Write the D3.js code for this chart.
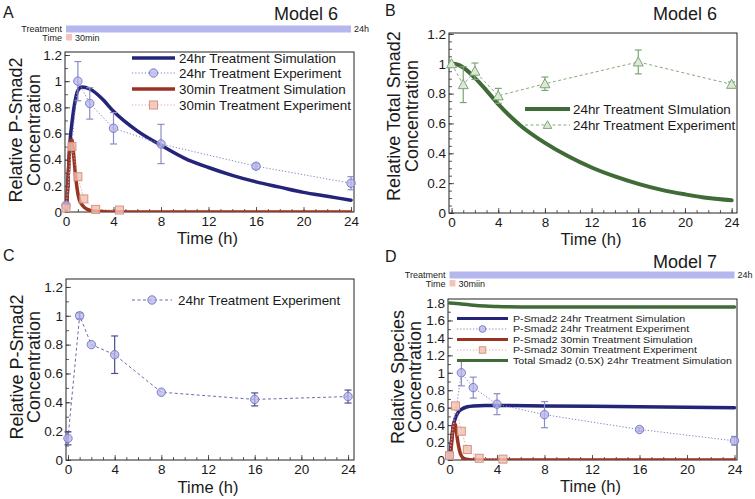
<!DOCTYPE html>
<html><head><meta charset="utf-8">
<script src="https://cdn.jsdelivr.net/npm/d3@7"></script>
<style>
body{margin:0;background:#fff}
svg{display:block}
text{font-family:"Liberation Sans",Arial,sans-serif;fill:#1a1a1a}
</style>
</head><body>
<svg id="chart" width="755" height="499"></svg>
<script>
// ---------------- DATA ----------------
const expTimes = [0, 1, 2, 4, 8, 16, 24];
const pSmad24Exp = [0.05, 1.0, 0.83, 0.64, 0.52, 0.35, 0.22];
const pSmad24Err = [0.02, 0.15, 0.12, 0.12, 0.15, 0.02, 0.05];

const shortTimes = [0, 0.5, 1, 1.5, 2.5, 4.5];
const pSmad30ExpA = [0.03, 0.5, 0.27, 0.10, 0.02, 0.015];
const pSmad30ExpD = [0.05, 0.62, 0.33, 0.12, 0.02, 0.01];

const simA24T = [0, 0.1, 0.2, 0.35, 0.5, 0.75, 1, 1.35, 2, 3, 4, 6, 8, 10, 12, 14, 16, 18, 20, 22, 24];
const simA24V = [0, 0.12, 0.3, 0.55, 0.68, 0.84, 0.93, 0.955, 0.94, 0.87, 0.77, 0.62, 0.51, 0.41, 0.34, 0.28, 0.23, 0.19, 0.15, 0.12, 0.09];
const simA30T = [0, 0.1, 0.2, 0.3, 0.4, 0.5, 0.6, 0.75, 0.9, 1.1, 1.4, 1.8, 2.5, 4, 8, 24];
const simA30V = [0, 0.12, 0.3, 0.47, 0.55, 0.55, 0.48, 0.33, 0.2, 0.1, 0.05, 0.02, 0.005, 0, 0, 0];

const totalExpB = [1.0, 0.86, 0.95, 0.785, 0.866, 1.012, 0.862];
const totalErrB = [0.01, 0.12, 0.055, 0.05, 0.045, 0.08, 0.016];
const simBT = [0, 0.5, 1, 2, 3, 4, 5, 6, 8, 10, 12, 14, 16, 18, 20, 22, 24];
const simBV = [1, 0.995, 0.975, 0.905, 0.82, 0.73, 0.65, 0.58, 0.47, 0.38, 0.305, 0.245, 0.195, 0.155, 0.125, 0.1, 0.085];

const pSmadExpC = [0.15, 1.0, 0.80, 0.73, 0.47, 0.42, 0.44];
const pSmadErrC = [0.045, 0.02, 0.01, 0.13, 0.01, 0.045, 0.045];

const simD24T = [0, 0.15, 0.3, 0.5, 0.75, 1, 1.5, 2, 3, 4, 8, 12, 16, 20, 24];
const simD24V = [0, 0.2, 0.38, 0.48, 0.55, 0.58, 0.61, 0.62, 0.625, 0.625, 0.62, 0.615, 0.61, 0.605, 0.60];
const simD30T = [0, 0.1, 0.2, 0.3, 0.4, 0.5, 0.6, 0.75, 0.9, 1.1, 1.4, 2, 24];
const simD30V = [0, 0.08, 0.22, 0.36, 0.42, 0.40, 0.3, 0.17, 0.08, 0.03, 0.01, 0, 0];
const simDTotT = [0, 1, 2, 3, 4, 6, 8, 12, 16, 20, 24];
const simDTotV = [1.8, 1.79, 1.775, 1.765, 1.76, 1.755, 1.755, 1.755, 1.755, 1.755, 1.755];

const xTickLabels = [0, 4, 8, 12, 16, 20, 24];
const yTicks12 = [0, 0.2, 0.4, 0.6, 0.8, 1, 1.2];
const yTicks18 = [0, 0.2, 0.4, 0.6, 0.8, 1, 1.2, 1.4, 1.6, 1.8];

// ---------------- STYLE ----------------
const C = {
  navy: "#24247a", brick: "#9a3322", green: "#3f6b36",
  circFill: "rgba(180,180,238,0.75)", circStroke: "#7f7fc2", circErr: "#8c8cc6",
  sqFill: "rgba(244,190,176,0.8)", sqStroke: "#d39585", sqLine: "#dba696",
  triFill: "#dde9d7", triStroke: "#7ea476", triLine: "#86a87c",
  cLine: "#6c6cb0", cErr: "#4b4b92",
  purpleBar: "#b7b7f0", pinkBar: "#f3c2b8"
};

const svg = d3.select("#chart");
const zip = (t, v, e) => t.map((d, i) => ({t: d, v: v[i], e: e ? e[i] : 0}));

function makePanel(cfg) {
  const g = svg.append("g");
  const x = d3.scaleLinear().domain(cfg.xd).range([cfg.l, cfg.r]);
  const y = d3.scaleLinear().domain(cfg.yd).range([cfg.b, cfg.t]);
  const id = "clip" + cfg.name;
  svg.append("clipPath").attr("id", id).append("rect")
    .attr("x", cfg.l).attr("y", cfg.t).attr("width", cfg.r - cfg.l).attr("height", cfg.b - cfg.t);

  const xm = g.append("g").attr("transform", `translate(0,${cfg.b})`)
    .call(d3.axisBottom(x).tickValues(d3.range(0, 25, 1)).tickSize(-3).tickFormat(""));
  const ym = g.append("g").attr("transform", `translate(${cfg.l},0)`)
    .call(d3.axisLeft(y).tickValues(d3.range(0, cfg.yTicks[cfg.yTicks.length-1] + 1e-9, cfg.yMinor)).tickSize(-3).tickFormat(""));
  const xa = g.append("g").attr("transform", `translate(0,${cfg.b})`)
    .call(d3.axisBottom(x).tickValues(xTickLabels).tickSize(-5).tickPadding(4).tickFormat(d => String(d)));
  const ya = g.append("g").attr("transform", `translate(${cfg.l},0)`)
    .call(d3.axisLeft(y).tickValues(cfg.yTicks).tickSize(-5).tickPadding(3).tickFormat(d => String(d)));
  [xm, ym, xa, ya].forEach(a => {
    a.select(".domain").remove();
    a.selectAll("line").attr("stroke", "#333").attr("stroke-width", 0.8);
    a.selectAll("text").attr("font-size", "13.5px").attr("fill", "#1a1a1a")
      .style("font-family", '"Liberation Sans",Arial,sans-serif');
  });
  g.append("rect").attr("x", cfg.l).attr("y", cfg.t).attr("width", cfg.r - cfg.l)
    .attr("height", cfg.b - cfg.t).attr("fill", "none").attr("stroke", "#222").attr("stroke-width", 1);

  g.append("text").attr("x", (cfg.l + cfg.r) / 2 - 2).attr("y", cfg.xTitleY)
    .attr("text-anchor", "middle").attr("font-size", "16.5px").text("Time (h)");
  cfg.yTitle.forEach((s, i) => {
    g.append("text").attr("transform", `translate(${cfg.yTitleX[i]},${cfg.yTitleCY}) rotate(-90)`)
      .attr("text-anchor", "middle").attr("font-size", "18px").text(s);
  });
  g.append("text").attr("x", cfg.letter[1]).attr("y", cfg.letter[2]).attr("font-size", "16px").text(cfg.letter[0]);
  if (cfg.model) g.append("text").attr("x", cfg.model[1]).attr("y", cfg.model[2])
    .attr("text-anchor", "end").attr("font-size", "18px").text(cfg.model[0]);

  const plot = g.append("g").attr("clip-path", `url(#${id})`);
  return {g, plot, x, y};
}

function simLine(p, data, color, w) {
  const line = d3.line().x(d => p.x(d.t)).y(d => p.y(d.v)).curve(d3.curveMonotoneX);
  p.plot.append("path").datum(data).attr("d", line).attr("fill", "none")
    .attr("stroke", color).attr("stroke-width", w || 3.5).attr("stroke-linecap", "round");
}
function expSeries(p, data, o) {
  const line = d3.line().x(d => p.x(d.t)).y(d => p.y(d.v));
  p.g.append("path").datum(data).attr("d", line).attr("fill", "none")
    .attr("stroke", o.line).attr("stroke-width", 1).attr("stroke-dasharray", o.dash);
  const eb = p.g.append("g").attr("stroke", o.err).attr("stroke-width", 1.2);
  data.filter(d => d.e > 0.012).forEach(d => {
    const xx = p.x(d.t), y1 = p.y(d.v - d.e), y2 = p.y(d.v + d.e);
    eb.append("line").attr("x1", xx).attr("x2", xx).attr("y1", y1).attr("y2", y2);
    eb.append("line").attr("x1", xx - 3.5).attr("x2", xx + 3.5).attr("y1", y1).attr("y2", y1);
    eb.append("line").attr("x1", xx - 3.5).attr("x2", xx + 3.5).attr("y1", y2).attr("y2", y2);
  });
  data.forEach(d => marker(p.g, o.shape, p.x(d.t), p.y(d.v), o, 1));
}
function marker(g, shape, cx, cy, o, s) {
  if (shape === "circle") g.append("circle").attr("cx", cx).attr("cy", cy).attr("r", 4.2 * s)
    .attr("fill", o.fill).attr("stroke", o.stroke).attr("stroke-width", 1);
  else if (shape === "square") g.append("rect").attr("x", cx - 4 * s).attr("y", cy - 4 * s).attr("width", 8 * s).attr("height", 8 * s)
    .attr("fill", o.fill).attr("stroke", o.stroke).attr("stroke-width", 1);
  else g.append("path").attr("d", `M${cx},${cy - 5 * s}L${cx + 5 * s},${cy + 4 * s}L${cx - 5 * s},${cy + 4 * s}Z`)
    .attr("fill", o.fill).attr("stroke", o.stroke).attr("stroke-width", 1);
}
function legend(g, items, x1, x2, tx, ys, fs, ms, lw, stretch) {
  items.forEach((it, i) => {
    const yy = ys[i];
    g.append("line").attr("x1", x1).attr("x2", x2).attr("y1", yy).attr("y2", yy)
      .attr("stroke", it.color).attr("stroke-width", it.sim ? lw : 1).attr("stroke-dasharray", it.dash || null);
    if (it.shape) marker(g, it.shape, (x1 + x2) / 2, yy, it, ms);
    const t = g.append("text").attr("x", tx).attr("y", yy).attr("dy", "0.35em").attr("font-size", fs).text(it.label);
    if (stretch) {
      const w = t.node().getComputedTextLength();
      t.attr("textLength", w * stretch).attr("lengthAdjust", "spacingAndGlyphs");
    }
  });
}
function treatmentBars(p, ty, label30) {
  const g = p.g, lx = p.x(0) - 4;
  g.append("text").attr("x", lx).attr("y", ty + 6).attr("text-anchor", "end").attr("font-size", "9px").text("Treatment");
  g.append("rect").attr("x", p.x(0)).attr("y", ty).attr("width", p.x(24) - p.x(0)).attr("height", 7).attr("fill", C.purpleBar);
  g.append("text").attr("x", p.x(24) + 3).attr("y", ty + 6).attr("font-size", "9px").text("24h");
  g.append("text").attr("x", lx).attr("y", ty + 15).attr("text-anchor", "end").attr("font-size", "9px").text("Time");
  g.append("rect").attr("x", p.x(0)).attr("y", ty + 8.5).attr("width", p.x(0.5) - p.x(0)).attr("height", 6.5).attr("fill", C.pinkBar);
  g.append("text").attr("x", p.x(0.5) + 3).attr("y", ty + 15).attr("font-size", "9px").text(label30);
}

const circOpts = {shape: "circle", fill: C.circFill, stroke: C.circStroke, err: C.circErr, line: C.circStroke, dash: "1.2,2"};
const sqOpts = {shape: "square", fill: C.sqFill, stroke: C.sqStroke, err: C.sqStroke, line: C.sqLine, dash: "1.2,2"};

// ---------------- PANEL A ----------------
const pA = makePanel({name: "A", l: 65, r: 354, t: 52, b: 212, xd: [-0.084, 24.25], yd: [0, 1.223],
  yTicks: yTicks12, yMinor: 0.1, xTitleY: 244, yTitle: ["Relative P-Smad2", "Concentration"],
  yTitleX: [22, 40], yTitleCY: 130, letter: ["A", 3, 18], model: ["Model 6", 338, 20]});
treatmentBars(pA, 25.5, "30min");
simLine(pA, zip(simA24T, simA24V), C.navy);
simLine(pA, zip(simA30T, simA30V), C.brick);
expSeries(pA, zip(expTimes, pSmad24Exp, pSmad24Err), circOpts);
expSeries(pA, zip(shortTimes, pSmad30ExpA), sqOpts);
legend(pA.g, [
  {label: "24hr Treatment Simulation", color: C.navy, sim: true},
  {label: "24hr Treatment Experiment", color: C.circStroke, dash: "1.2,2", shape: "circle", fill: C.circFill, stroke: C.circStroke},
  {label: "30min Treatment Simulation", color: C.brick, sim: true},
  {label: "30min Treatment Experiment", color: C.sqLine, dash: "1.2,2", shape: "square", fill: C.sqFill, stroke: C.sqStroke}
], 132, 175, 179, [58, 73, 89, 105], "13.4px", 1, 3.5);

// ---------------- PANEL B ----------------
const pB = makePanel({name: "B", l: 449, r: 737, t: 33, b: 213, xd: [-0.22, 24.46], yd: [0, 1.206],
  yTicks: yTicks12, yMinor: 0.05, xTitleY: 245, yTitle: ["Relative Total Smad2", "Concentration"],
  yTitleX: [400, 418], yTitleCY: 116, letter: ["B", 385, 16], model: ["Model 6", 717, 20]});
simLine(pB, zip(simBT, simBV), C.green, 4);
expSeries(pB, zip(expTimes, totalExpB, totalErrB), {shape: "tri", fill: C.triFill, stroke: C.triStroke, err: C.triStroke, line: C.triLine, dash: "3,2.5"});
legend(pB.g, [
  {label: "24hr Treatment SImulation", color: C.green, sim: true},
  {label: "24hr Treatment Experiment", color: C.triLine, dash: "3,2.5", shape: "tri", fill: C.triFill, stroke: C.triStroke}
], 525, 570, 573, [109, 125], "13.4px", 0.85, 4);

// ---------------- PANEL C ----------------
const pC = makePanel({name: "C", l: 66, r: 354, t: 279, b: 460, xd: [-0.17, 24.51], yd: [0, 1.255],
  yTicks: yTicks12, yMinor: 0.1, xTitleY: 493, yTitle: ["Relative P-Smad2", "Concentration"],
  yTitleX: [23, 40], yTitleCY: 367, letter: ["C", 3, 261], model: null});
expSeries(pC, zip(expTimes, pSmadExpC, pSmadErrC), {shape: "circle", fill: C.circFill, stroke: C.circStroke, err: C.cErr, line: C.cLine, dash: "3,2.5"});
legend(pC.g, [
  {label: "24hr Treatment Experiment", color: C.cLine, dash: "3,2.5", shape: "circle", fill: C.circFill, stroke: C.circStroke}
], 132, 172, 178, [300], "13.4px", 1, 3.5);

// ---------------- PANEL D ----------------
const pD = makePanel({name: "D", l: 448, r: 737, t: 299, b: 460, xd: [-0.126, 24.21], yd: [0, 1.846],
  yTicks: yTicks18, yMinor: 0.1, xTitleY: 492, yTitle: ["Relative Species", "Concentration"],
  yTitleX: [404, 421], yTitleCY: 377, letter: ["D", 385, 262], model: ["Model 7", 717, 268]});
treatmentBars(pD, 271.5, "30miin");
simLine(pD, zip(simDTotT, simDTotV), C.green);
simLine(pD, zip(simD24T, simD24V), C.navy);
simLine(pD, zip(simD30T, simD30V), C.brick);
expSeries(pD, zip(expTimes, pSmad24Exp, pSmad24Err), circOpts);
expSeries(pD, zip(shortTimes, pSmad30ExpD), sqOpts);
legend(pD.g, [
  {label: "P-Smad2 24hr Treatment Simulation", color: C.navy, sim: true},
  {label: "P-Smad2 24hr Treatment Experiment", color: C.circStroke, dash: "1.2,2", shape: "circle", fill: C.circFill, stroke: C.circStroke},
  {label: "P-Smad2 30min Treatment Simulation", color: C.brick, sim: true},
  {label: "P-Smad2 30min Treatment Experiment", color: C.sqLine, dash: "1.2,2", shape: "square", fill: C.sqFill, stroke: C.sqStroke},
  {label: "Total Smad2 (0.5X) 24hr Treatment Simulation", color: C.green, sim: true}
], 457, 508, 513, [318.5, 329, 339.5, 350, 360.5], "9.1px", 0.8, 3, 1.17);
</script>
</body></html>
